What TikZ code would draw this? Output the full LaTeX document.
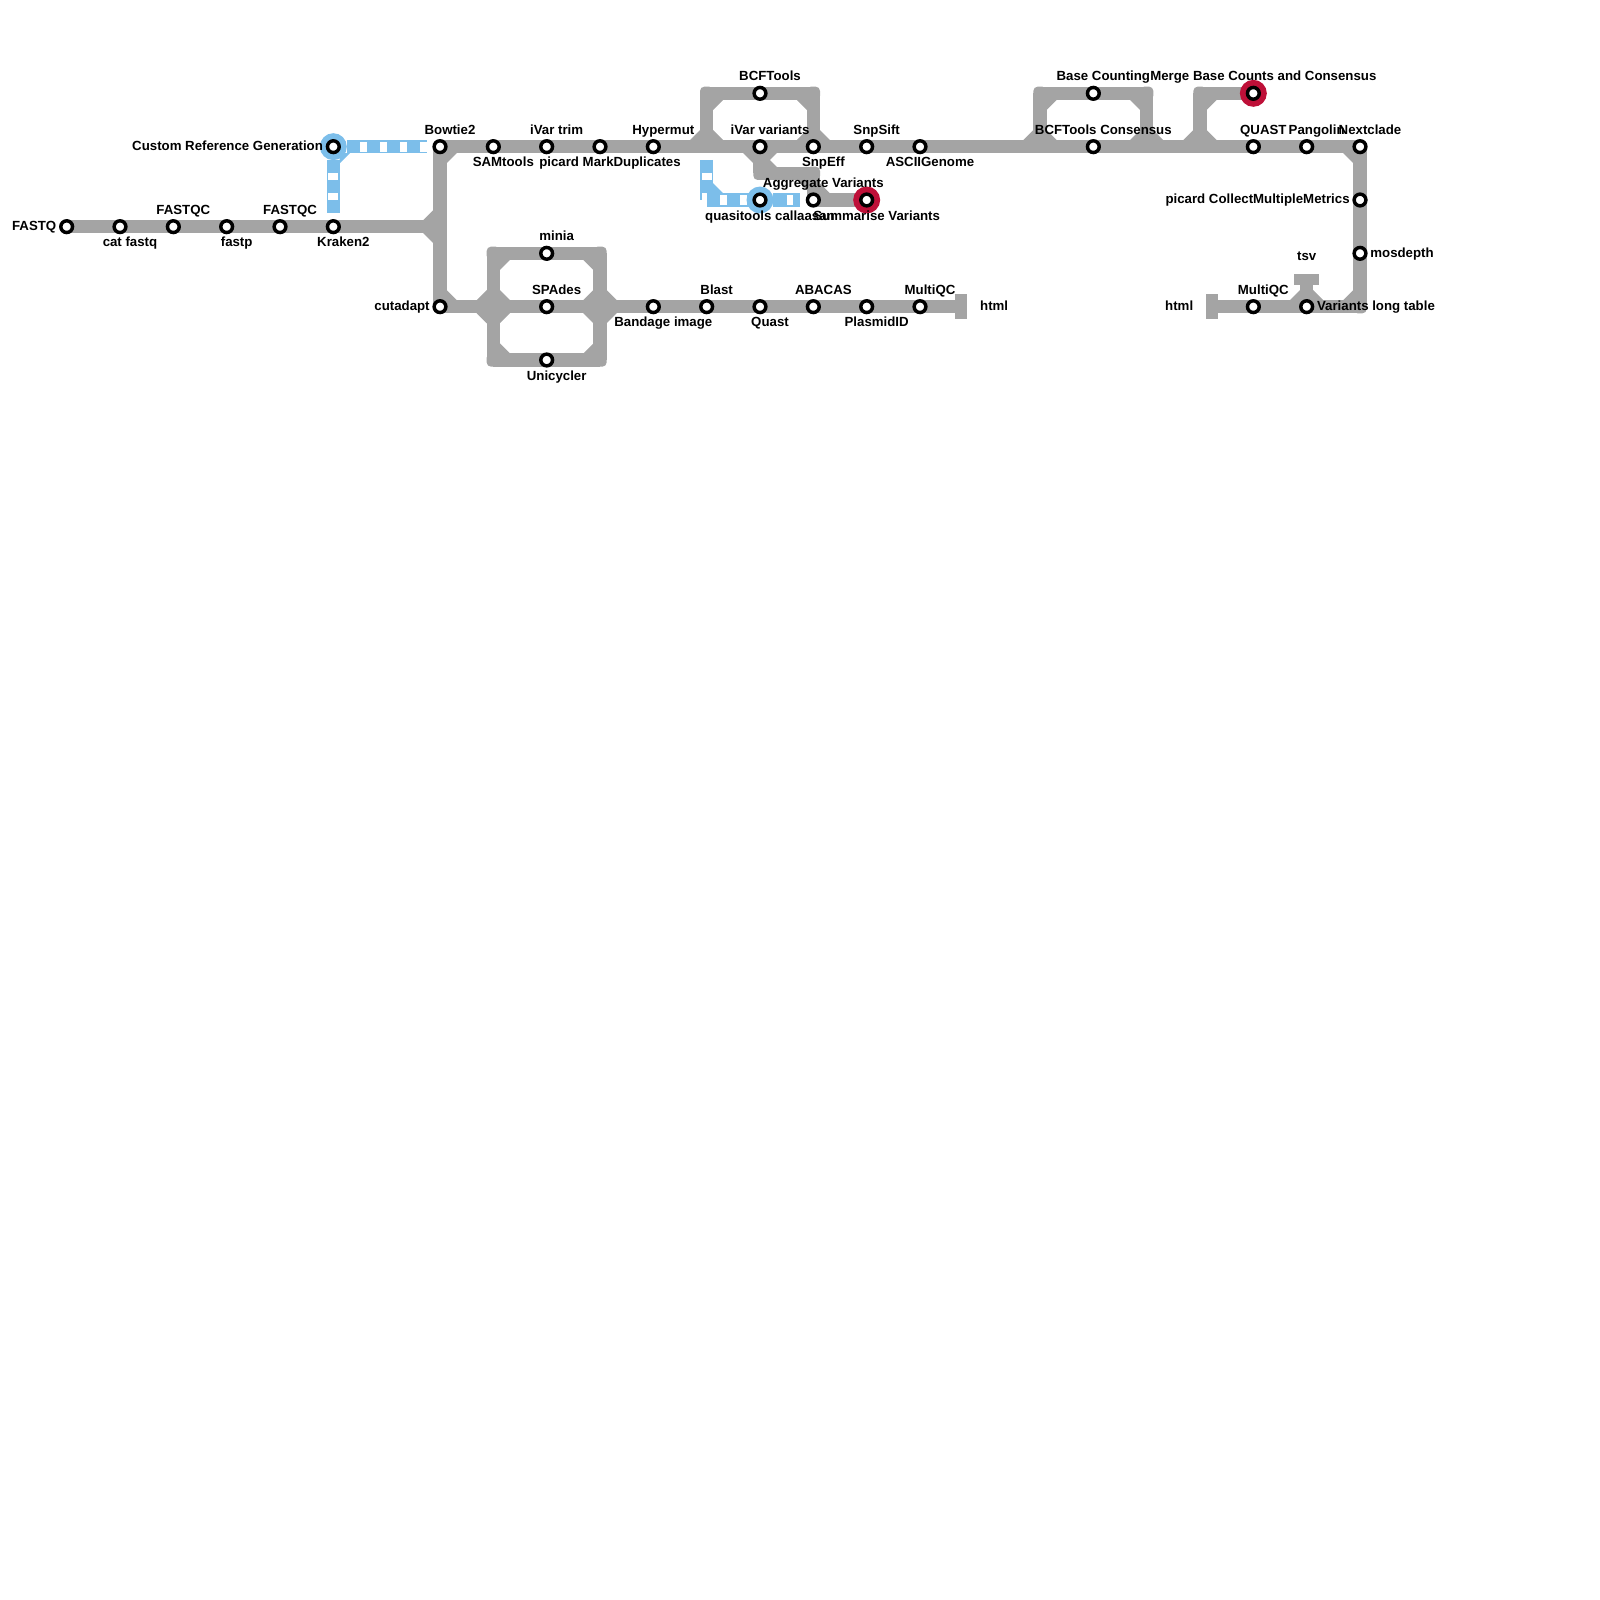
\documentclass[tikz,border=0pt]{standalone}
\usepackage{fontspec}
\setmainfont{Liberation Sans}
\usetikzlibrary{backgrounds}
\definecolor{trackgrey}{RGB}{164,164,164}
\definecolor{railblue}{RGB}{124,190,234}
\definecolor{endred}{RGB}{190,16,56}
\tikzset{
  stn/.style={circle,draw=black,fill=white,line width=.065cm,minimum size=.22cm,inner sep=0pt,outer sep=0pt},
  stnblue/.style={stn,preaction={draw=railblue,line width=.28cm}},
  stnred/.style={stn,preaction={draw=endred,line width=.28cm}},
  bendsq/.style={rectangle,fill=trackgrey,minimum size=.25cm,inner sep=0pt,outer sep=0pt,rounded corners=.08cm},
  endbar/.style={rectangle,fill=trackgrey,inner sep=0pt,outer sep=0pt},
  track/.style={draw=trackgrey,line width=.25cm},
  rail/.style={draw=railblue,line width=.25cm},
  sleeper/.style={draw=white,line width=.1875cm,dash pattern=on .125cm off .25cm,dash phase=.125cm},
  lbl/.style={font=\fontsize{7.07}{8.5}\selectfont\bfseries,inner sep=0pt,anchor=base},
  lblleft/.style={lbl,anchor=base east},
  lblright/.style={lbl,anchor=base west}
}
\begin{document}
\begin{tikzpicture}[x=1cm,y=-1cm]
\useasboundingbox (-.25,-.75) rectangle (29.75,29.25);

% the stations
\foreach \n/\a/\b in {fastq/1/3.5,catfq/2/3.5,qca/3/3.5,fastp/4/3.5,qcb/5/3.5,kraken/6/3.5,
    bowtie/8/2,sam/9/2,ivtrim/10/2,mdup/11/2,hypermut/12/2,ivar/14/2,snpeff/15/2,snpsift/16/2,ascii/17/2,
    bcfcons/20.25/2,quast/23.25/2,pangolin/24.25/2,nextclade/25.25/2,
    bcftools/14/1,basecount/20.25/1,aggreg/15/3,
    metrics/25.25/3,mosdepth/25.25/4,longtab/24.25/5,mqcb/23.25/5,
    cutadapt/8/5,minia/10/4,spades/10/5,unicycler/10/6,
    bandage/12/5,blast/13/5,quastb/14/5,abacas/15/5,plasmid/16/5,mqca/17/5}
    \node[stn] (\n) at (\a,\b) {};
\node[stnblue] (custom) at (6,2) {};
\node[stnblue] (quasi) at (14,3) {};
\node[stnred] (summ) at (16,3) {};
\node[stnred] (merge) at (23.25,1) {};

% labels over, under and beside
\foreach \n/\t in {qca/FASTQC,qcb/FASTQC,bowtie/Bowtie2,ivtrim/iVar trim,hypermut/Hypermut,
    bcftools/BCFTools,ivar/iVar variants,snpsift/SnpSift,basecount/Base Counting,
    merge/Merge Base Counts and Consensus,bcfcons/BCFTools Consensus,quast/QUAST,
    pangolin/Pangolin,nextclade/Nextclade,minia/minia,spades/SPAdes,blast/Blast,
    abacas/ABACAS,mqca/MultiQC,mqcb/MultiQC,aggreg/Aggregate Variants}
    \node[lbl] (l\n) at ([shift={(.1875,-.235)}]\n.center) {\t};
\foreach \n/\t in {catfq/cat fastq,fastp/fastp,kraken/Kraken2,sam/SAMtools,mdup/picard MarkDuplicates,
    ascii/ASCIIGenome,snpeff/SnpEff,quasi/quasitools callaasan,summ/Summarise Variants,
    bandage/Bandage image,quastb/Quast,plasmid/PlasmidID,unicycler/Unicycler}
    \node[lbl] (l\n) at ([shift={(.1875,.38)}]\n.center) {\t};
\foreach \n/\t in {fastq/FASTQ,custom/Custom Reference Generation,cutadapt/cutadapt,
    metrics/picard CollectMultipleMetrics}
    \node[lblleft] (l\n) at ([shift={(-.1875,.07)}]\n.center) {\t};
\foreach \n/\t in {mosdepth/mosdepth,longtab/Variants long table}
    \node[lblright] (l\n) at ([shift={(.1875,.07)}]\n.center) {\t};

\begin{pgfonlayer}{background}
% the corners and the forks
\foreach \n/\a/\b in {bowb/8/2,cutb/8/5,boxa/9/4,boxb/9/6,boxc/11/4,boxd/11/6,
    boxe/13/1,boxf/15/1,midl/14/2.5,midr/15/2.5,agb/15/3,
    boxg/19.25/1,boxh/21.25/1,boxi/22.25/1,nextb/25.25/2,lowb/25.25/5}
    \node[bendsq] (\n) at (\a,\b) {};
\foreach \n/\a/\b in {fka/8/3.5,fkb/9/5,fkc/11/5,fkd/13/2,fke/19.25/2,fkf/21.25/2,fkg/22.25/2}
    \coordinate (\n) at (\a,\b);

% the ends
\node[endbar,minimum width=.22cm,minimum height=.47cm] (htmla) at (17.77,5) {};
\node[endbar,minimum width=.22cm,minimum height=.47cm] (htmlb) at (22.48,5) {};
\node[endbar,minimum width=.47cm,minimum height=.22cm] (tsvbar) at (24.25,4.49) {};
\node[lbl] (lhtmla) at ([shift={(.62,.07)}]htmla.center) {html};
\node[lbl] (lhtmlb) at ([shift={(-.62,.07)}]htmlb.center) {html};
\node[lbl] (ltsv) at ([shift={(0,-.35)}]tsvbar.center) {tsv};

% the grey lines
\foreach \a/\b in {fastq/catfq,catfq/qca,qca/fastp,fastp/qcb,qcb/kraken,kraken/fka,
    bowb/fka,fka/cutb,bowtie/sam,sam/ivtrim,ivtrim/mdup,mdup/hypermut,hypermut/fkd,fkd/ivar,
    ivar/snpeff,snpeff/snpsift,snpsift/ascii,ascii/fke,fke/bcfcons,bcfcons/fkf,fkf/fkg,fkg/quast,
    quast/pangolin,pangolin/nextb,nextb/lowb,lowb/longtab,longtab/mqcb,mqcb/htmlb,longtab/tsvbar,
    fkd/boxe,boxe/bcftools,bcftools/boxf,boxf/snpeff,
    ivar/midl,midl/midr,midr/agb,agb/summ,
    fke/boxg,boxg/basecount,basecount/boxh,boxh/fkf,fkg/boxi,boxi/merge,
    cutb/fkb,fkb/spades,spades/fkc,fkc/bandage,bandage/blast,blast/quastb,quastb/abacas,
    abacas/plasmid,plasmid/mqca,mqca/htmla,
    fkb/boxa,boxa/minia,minia/boxc,boxc/fkc,fkb/boxb,boxb/unicycler,unicycler/boxd,boxd/fkc}
    \draw[track] (\a.center) -- (\b.center);

% the cut corners
\foreach \n/\a/\b in {fka/-1/-1,fka/-1/1,bowb/1/1,cutb/1/-1,
    fkb/-1/-1,fkb/-1/1,fkb/1/-1,fkb/1/1,fkc/-1/-1,fkc/-1/1,fkc/1/-1,fkc/1/1,
    boxa/1/1,boxb/1/-1,boxc/-1/1,boxd/-1/-1,
    fkd/-1/-1,fkd/1/-1,boxe/1/1,boxf/-1/1,snpeff/-1/-1,snpeff/1/-1,
    ivar/-1/1,ivar/1/1,midl/1/-1,midr/-1/1,agb/1/-1,
    fke/-1/-1,fke/1/-1,boxg/1/1,boxh/-1/1,fkf/-1/-1,fkf/1/-1,fkg/-1/-1,fkg/1/-1,boxi/1/1,
    nextb/-1/1,lowb/-1/-1,longtab/-1/-1,longtab/1/-1}
    \fill[trackgrey] (\n.center) ++(\a*.12,\b*.12) -- ++(\a*.195,0) -- ++(-\a*.195,\b*.195) -- cycle;

% the blue lines
\coordinate (rla) at (6.25,2);
\coordinate (rlb) at (7.75,2);
\coordinate (rlc) at (6,2.25);
\coordinate (rld) at (6,3.25);
\coordinate (rle) at (13,2.25);
\coordinate (rlf) at (13,3);
\coordinate (rlg) at (14.25,3);
\coordinate (rlh) at (14.75,3);
\foreach \a/\b in {rla/rlb,rlc/rld,rle/rlf,rlf/quasi,rlg/rlh}
    {\draw[rail] (\a.center) -- (\b.center);
     \draw[sleeper] (\a.center) -- (\b.center);}
\foreach \n/\a/\b in {custom/1/1,rlf/1/-1}
    \fill[railblue] (\n.center) ++(\a*.12,\b*.12) -- ++(\a*.195,0) -- ++(-\a*.195,\b*.195) -- cycle;
\end{pgfonlayer}
\end{tikzpicture}
\end{document}
